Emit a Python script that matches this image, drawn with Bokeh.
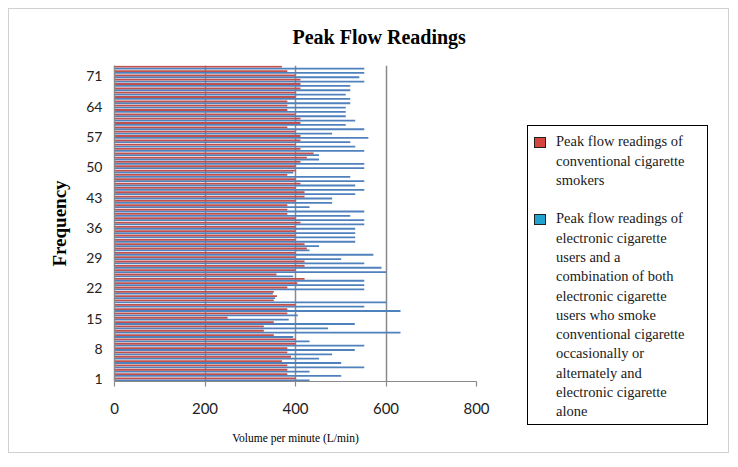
from bokeh.plotting import figure
from bokeh.models import Range1d, FixedTicker, ColumnDataSource, Div
from bokeh.layouts import row
from bokeh.transform import dodge
from bokeh.embed import file_html
from bokeh.resources import INLINE

# ---------------- data ----------------
frequency = list(range(1, 74))
conventional = [400, 382, 382, 382, 370, 390, 382, 382, 400, 400,
                352, 330, 330, 352, 250, 382, 382, 400, 352, 359,
                352, 382, 404, 420, 358, 400, 420, 420, 400, 400,
                425, 420, 400, 400, 400, 400, 411, 400, 382, 382,
                382, 400, 420, 420, 400, 411, 400, 382, 400, 400,
                411, 425, 440, 411, 400, 411, 411, 400, 382, 411,
                411, 400, 382, 382, 382, 400, 400, 411, 411, 411,
                400, 382, 370]
electronic = [431, 501, 431, 552, 501, 452, 481, 531, 552, 431,
              395, 632, 472, 531, 385, 405, 632, 552, 601, 355,
              350, 552, 552, 552, 395, 600, 590, 552, 501, 572,
              431, 452, 532, 532, 532, 532, 552, 552, 521, 552,
              431, 481, 481, 532, 552, 532, 552, 521, 395, 552,
              552, 452, 452, 552, 532, 521, 561, 481, 552, 511,
              532, 511, 511, 511, 521, 521, 511, 521, 521, 552,
              541, 552, 552]
y_ticks = [1, 8, 15, 22, 29, 36, 43, 50, 57, 64, 71]
x_ticks = [0, 200, 400, 600, 800]

title_text = "Peak Flow Readings"
x_label = "Volume per minute (L/min)"
y_label = "Frequency"
legend_entries = [
    ["Peak flow readings of", "conventional cigarette", "smokers"],
    ["Peak flow readings of", "electronic cigarette", "users and a",
     "combination of both", "electronic cigarette", "users who smoke",
     "conventional cigarette", "occasionally or", "alternately and",
     "electronic cigarette", "alone"],
]

RED = "#c0504d"
BLUE = "#4f81bd"
LEG_COLORS = ["#d5443f", "#21a3cf"]
GRID = "#8a8a8a"
SERIF = "Liberation Serif"
SANS = "Lato"

src = ColumnDataSource(dict(k=frequency, conv=conventional, elec=electronic))

# ---------------- main chart ----------------
p = figure(width=511, height=443, output_backend="svg", toolbar_location=None,
           x_range=Range1d(0, 800), y_range=Range1d(0.5, len(frequency) + 0.5),
           min_border_left=105, min_border_right=44,
           min_border_top=0, min_border_bottom=71,
           background_fill_color="white", border_fill_color="white",
           outline_line_color=None)

p.hbar(y=dodge("k", -0.22, range=p.y_range), left=0, right="elec", height=0.42,
       source=src, fill_color=BLUE, line_color=None)
p.hbar(y=dodge("k", 0.22, range=p.y_range), left=0, right="conv", height=0.42,
       source=src, fill_color=RED, line_color=None)

p.title.text = title_text
p.title.text_font = SERIF
p.title.text_font_size = "20px"
p.title.text_font_style = "bold"
p.title.text_color = "black"
p.title.align = "left"
p.title.offset = 178
p.title.vertical_align = "top"
p.title.standoff = 32

xa = p.xaxis[0]
xa.ticker = FixedTicker(ticks=x_ticks)
xa.axis_line_color = GRID
xa.axis_line_width = 1.2
xa.major_tick_line_color = GRID
xa.major_tick_line_width = 1.2
xa.major_tick_out = 5
xa.major_tick_in = 0
xa.minor_tick_line_color = None
xa.major_label_text_font = SANS
xa.major_label_text_font_size = "15px"
xa.major_label_text_color = "#222222"
xa.major_label_standoff = 16
xa.axis_label = x_label
xa.axis_label_text_font = SERIF
xa.axis_label_text_font_size = "11.5px"
xa.axis_label_text_font_style = "normal"
xa.axis_label_text_color = "black"
xa.axis_label_standoff = 15

ya = p.yaxis[0]
ya.ticker = FixedTicker(ticks=y_ticks)
ya.axis_line_color = GRID
ya.axis_line_width = 1.5
ya.major_tick_out = 0
ya.major_tick_in = 0
ya.major_tick_line_color = None
ya.minor_tick_line_color = None
ya.major_label_text_font = SANS
ya.major_label_text_font_size = "14px"
ya.major_label_text_color = "#222222"
ya.major_label_standoff = 12
ya.axis_label = y_label
ya.axis_label_text_font = SERIF
ya.axis_label_text_font_size = "19px"
ya.axis_label_text_font_style = "bold"
ya.axis_label_text_color = "black"
ya.axis_label_standoff = 13

p.xgrid.ticker = FixedTicker(ticks=x_ticks[1:])
p.xgrid.grid_line_color = GRID
p.xgrid.grid_line_width = 1.5
p.ygrid.grid_line_color = None

# ---------------- legend box (HTML) ----------------
line_h = 19.3
entry_first_line = [16.0, 93.0]
parts = []
for ei, lines in enumerate(legend_entries):
    c0 = entry_first_line[ei]
    parts.append(
        f'<div style="position:absolute;left:6px;top:{c0 - 5.5:.1f}px;width:12px;height:11px;'
        f'background:{LEG_COLORS[ei]};border:1.2px solid #222;"></div>')
    for li, t in enumerate(lines):
        cy = c0 + li * line_h
        parts.append(
            f'<div style="position:absolute;left:28px;top:{cy - line_h / 2:.1f}px;'
            f'height:{line_h}px;line-height:{line_h}px;white-space:nowrap;">{t}</div>')
legend_html = (
    '<div style="position:relative;width:181px;height:300px;box-sizing:border-box;'
    'border:1.6px solid #000;background:white;'
    f"font-family:'{SERIF}';font-size:14.5px;color:#1a1a1a;\">"
    + "".join(parts) + "</div>")
legend_div = Div(text=legend_html, width=181, height=300, margin=(116, 20, 0, 7))

layout = row(p, legend_div, margin=(8, 0, 0, 8),
             styles={"border": "1px solid #d0d0d0", "background": "white"})

open("out.html", "w").write(file_html(layout, INLINE))
